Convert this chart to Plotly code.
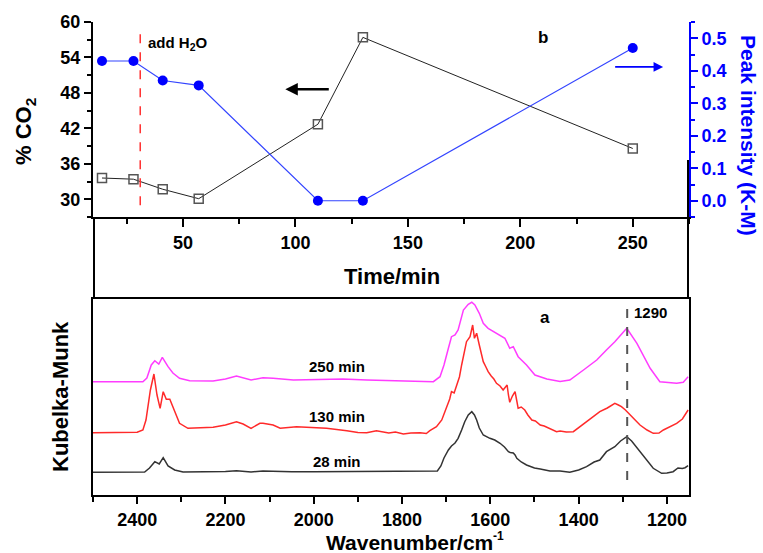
import plotly.graph_objects as go

# ---- panel b: CO2 fraction and 1290 band intensity vs. time ----
time_min = [14, 28, 41, 57, 110, 130, 250]
co2_pct = [33.6, 33.4, 31.7, 30.1, 42.7, 57.4, 38.6]
peak_km = [0.43, 0.43, 0.37, 0.355, 0.0, 0.0, 0.47]
water_added_min = 31

# ---- panel a: DRIFT spectra (Kubelka-Munk, offset) ----
wn_28 = [2500, 2450, 2400, 2383, 2372, 2360, 2350, 2341, 2330, 2315, 2296, 2250, 2200,
         2175, 2142, 2115, 2092, 2050, 2000, 1900, 1800, 1720, 1712, 1705, 1695, 1688,
         1680, 1673, 1665, 1658, 1650, 1642, 1636, 1631, 1625, 1616, 1601, 1590, 1578,
         1568, 1559, 1555, 1548, 1544, 1540, 1530, 1518, 1500, 1487, 1465, 1442, 1420,
         1400, 1382, 1365, 1352, 1337, 1318, 1305, 1291, 1280, 1261, 1245, 1231, 1212,
         1200, 1186, 1175, 1165, 1159, 1152]
km_28 = [0.227, 0.227, 0.227, 0.230, 0.270, 0.333, 0.310, 0.373, 0.290, 0.250, 0.230, 0.230,
         0.235, 0.243, 0.230, 0.240, 0.235, 0.233, 0.233, 0.233, 0.233, 0.240, 0.290, 0.370,
         0.450, 0.490, 0.520, 0.567, 0.650, 0.733, 0.800, 0.833, 0.800, 0.750, 0.670, 0.600,
         0.567, 0.550, 0.517, 0.480, 0.433, 0.425, 0.420, 0.400, 0.367, 0.330, 0.300, 0.270,
         0.260, 0.240, 0.240, 0.227, 0.250, 0.283, 0.330, 0.350, 0.433, 0.483, 0.540, 0.583,
         0.540, 0.433, 0.340, 0.267, 0.217, 0.220, 0.233, 0.270, 0.265, 0.273, 0.293]

wn_130 = [2500, 2450, 2400, 2387, 2380, 2370, 2362, 2355, 2348, 2341, 2334, 2326, 2315,
          2304, 2285, 2250, 2228, 2200, 2175, 2160, 2142, 2122, 2115, 2092, 2076, 2039,
          2000, 1971, 1925, 1900, 1880, 1870, 1858, 1830, 1815, 1797, 1780, 1759, 1745,
          1737, 1722, 1710, 1699, 1692, 1688, 1682, 1676, 1670, 1665, 1659, 1654, 1646,
          1640, 1636, 1631, 1625, 1620, 1616, 1610, 1605, 1598, 1592, 1586, 1578, 1571,
          1566, 1562, 1559, 1556, 1550, 1544, 1540, 1537, 1530, 1522, 1515, 1506, 1498,
          1487, 1478, 1465, 1458, 1450, 1442, 1428, 1412, 1398, 1382, 1366, 1352, 1335,
          1318, 1310, 1303, 1294, 1284, 1272, 1261, 1245, 1231, 1218, 1208, 1192, 1178,
          1165, 1152]
km_130 = [0.623, 0.625, 0.627, 0.650, 0.750, 1.050, 1.210, 1.000, 0.867, 1.033, 0.957, 0.957,
          0.833, 0.717, 0.667, 0.670, 0.677, 0.700, 0.733, 0.710, 0.667, 0.717, 0.717, 0.700,
          0.667, 0.683, 0.675, 0.667, 0.643, 0.625, 0.623, 0.635, 0.643, 0.620, 0.630, 0.610,
          0.620, 0.623, 0.615, 0.643, 0.683, 0.750, 0.883, 0.960, 1.033, 1.020, 1.100, 1.180,
          1.300, 1.420, 1.533, 1.583, 1.700, 1.567, 1.617, 1.500, 1.420, 1.333, 1.280, 1.233,
          1.190, 1.160, 1.117, 1.090, 1.050, 1.080, 1.100, 1.000, 0.927, 0.990, 1.033, 0.940,
          0.867, 0.880, 0.850, 0.800, 0.750, 0.740, 0.700, 0.690, 0.667, 0.650, 0.633, 0.640,
          0.630, 0.633, 0.680, 0.733, 0.780, 0.833, 0.870, 0.917, 0.900, 0.883, 0.850, 0.800,
          0.750, 0.700, 0.650, 0.617, 0.620, 0.650, 0.690, 0.717, 0.760, 0.850]

wn_250 = [2500, 2450, 2400, 2387, 2378, 2368, 2360, 2351, 2343, 2330, 2319, 2304, 2281,
          2228, 2200, 2175, 2142, 2115, 2092, 2046, 1990, 1934, 1880, 1820, 1760, 1729,
          1714, 1705, 1695, 1688, 1680, 1673, 1661, 1650, 1642, 1635, 1625, 1616, 1605,
          1586, 1567, 1556, 1548, 1537, 1518, 1499, 1472, 1442, 1420, 1389, 1359, 1337,
          1318, 1291, 1268, 1238, 1216, 1178, 1163, 1152]
km_250 = [1.133, 1.133, 1.133, 1.133, 1.170, 1.300, 1.343, 1.310, 1.377, 1.283, 1.220, 1.167,
          1.143, 1.140, 1.160, 1.190, 1.150, 1.173, 1.167, 1.150, 1.155, 1.160, 1.150, 1.143,
          1.133, 1.133, 1.183, 1.300, 1.467, 1.583, 1.600, 1.650, 1.850, 1.907, 1.927, 1.900,
          1.817, 1.717, 1.667, 1.617, 1.567, 1.467, 1.483, 1.383, 1.300, 1.200, 1.160, 1.135,
          1.150, 1.250, 1.350, 1.450, 1.533, 1.667, 1.517, 1.267, 1.133, 1.117, 1.127, 1.183]

band_wn = 1290

FONT = "Liberation Sans, Arial, sans-serif"
BLUE = "#0000ff"

fig = go.Figure()

# panel b traces
fig.add_trace(go.Scatter(
    x=time_min, y=co2_pct, mode="lines+markers", xaxis="x", yaxis="y",
    line=dict(color="#222222", width=1),
    marker=dict(symbol="square-open", size=9, color="#555555", line=dict(width=1.5)),
    showlegend=False))
fig.add_trace(go.Scatter(
    x=time_min, y=peak_km, mode="lines+markers", xaxis="x", yaxis="y2",
    line=dict(color="#3344ff", width=1.2),
    marker=dict(symbol="circle", size=10, color=BLUE),
    showlegend=False))
fig.add_trace(go.Scatter(
    x=[water_added_min, water_added_min], y=[29, 58.1], mode="lines", xaxis="x", yaxis="y",
    line=dict(color="#ff3030", width=1.5, dash="dash"), showlegend=False))

# panel a traces
for wn, km, col in [(wn_250, km_250, "#ff3cff"), (wn_130, km_130, "#ff2a2a"),
                    (wn_28, km_28, "#333333")]:
    fig.add_trace(go.Scatter(x=wn, y=km, mode="lines", xaxis="x2", yaxis="y3",
                             line=dict(color=col, width=1.5), showlegend=False))
fig.add_trace(go.Scatter(
    x=[band_wn, band_wn], y=[0.15, 1.87], mode="lines", xaxis="x2", yaxis="y3",
    line=dict(color="#555555", width=2, dash="dash"), showlegend=False))

tickfont = dict(family=FONT, size=18, color="black", weight="bold")
axis_common = dict(showline=True, linewidth=2, linecolor="black", showgrid=False,
                   zeroline=False, tickwidth=2, tickcolor="black", tickfont=tickfont)

fig.update_layout(
    width=763, height=553,
    margin=dict(l=93, r=74, t=22, b=58),
    paper_bgcolor="white", plot_bgcolor="white",
    xaxis=dict(axis_common, domain=[0, 1], anchor="y", range=[10, 275],
               tick0=0, dtick=50, ticks="outside", ticklen=8,
               minor=dict(ticks="outside", ticklen=5, dtick=25, tick0=0,
                          tickwidth=2, tickcolor="black")),
    xaxis3=dict(showline=True, linewidth=2, linecolor="black", showgrid=False,
                zeroline=False, overlaying="x", side="top", anchor="y",
                range=[10, 275], tick0=0, dtick=50, ticks="inside", ticklen=8,
                tickwidth=2, tickcolor="black", showticklabels=False,
                minor=dict(ticks="inside", ticklen=5, dtick=25, tick0=0,
                           tickwidth=2, tickcolor="black")),
    yaxis=dict(axis_common, domain=[0.5877, 1], anchor="x", range=[27, 60],
               tick0=0, dtick=6, ticks="outside", ticklen=7,
               minor=dict(ticks="outside", ticklen=4, dtick=3, tick0=0,
                          tickwidth=2, tickcolor="black")),
    yaxis2=dict(showline=True, linewidth=2, linecolor=BLUE, showgrid=False,
                zeroline=False, overlaying="y", side="right", anchor="x",
                range=[-0.05, 0.55], tick0=0, dtick=0.1, tickformat=".1f",
                ticks="outside", ticklen=7, tickwidth=2, tickcolor=BLUE,
                tickfont=dict(family=FONT, size=18, color=BLUE, weight="bold"),
                minor=dict(ticks="outside", ticklen=4, dtick=0.05, tick0=0,
                           tickwidth=2, tickcolor=BLUE)),
    xaxis2=dict(axis_common, domain=[0, 1], anchor="y3", range=[2500, 1150],
                tick0=0, dtick=200, ticks="outside", ticklen=7, mirror=True,
                minor=dict(ticks="outside", ticklen=5, dtick=100, tick0=0,
                           tickwidth=2, tickcolor="black")),
    yaxis3=dict(showline=True, linewidth=2, linecolor="black", showgrid=False,
                zeroline=False, domain=[0, 0.4144], anchor="x2", range=[0, 1.96],
                showticklabels=False, ticks="", mirror=True),
)

def px_x(p):
    return (p - 93) / 596

def px_y(p):
    return (495 - p) / 473

title_font = dict(family=FONT, size=22, color="black", weight="bold")
annos = [
    dict(text="% CO<sub>2</sub>", x=px_x(25), y=px_y(132), textangle=-90, font=title_font),
    dict(text="Kubelka-Munk", x=px_x(60), y=px_y(397), textangle=-90, font=title_font),
    dict(text="Time/min", x=px_x(392), y=px_y(276), font=title_font),
    dict(text="Wavenumber/cm", x=px_x(409), y=px_y(542),
         font=dict(family=FONT, size=21, color="black", weight="bold")),
    dict(text="-1", x=px_x(498), y=px_y(536),
         font=dict(family=FONT, size=12, color="black", weight="bold")),
    dict(text="Peak intensity (K-M)", x=px_x(749), y=px_y(135), textangle=90,
         font=dict(family=FONT, size=21, color=BLUE, weight="bold")),
]
for a in annos:
    a.update(xref="paper", yref="paper", showarrow=False, xanchor="center", yanchor="middle")
    fig.add_annotation(**a)

label_font = dict(family=FONT, size=15, color="black", weight="bold")
# panel b labels and arrows
fig.add_annotation(text="add H<sub>2</sub>O", x=48, y=56.4, xref="x", yref="y",
                   showarrow=False, font=label_font)
fig.add_annotation(text="b", x=210, y=57.4, xref="x", yref="y", showarrow=False,
                   font=dict(family=FONT, size=17, color="black", weight="bold"))
fig.add_annotation(x=95.5, y=48.6, ax=115.5, ay=48.6, xref="x", yref="y",
                   axref="x", ayref="y", text="", showarrow=True, arrowhead=2,
                   arrowsize=1, arrowwidth=2.5, arrowcolor="black")
fig.add_annotation(x=263.5, y=52.4, ax=241.5, ay=52.4, xref="x", yref="y",
                   axref="x", ayref="y", text="", showarrow=True, arrowhead=2,
                   arrowsize=1.2, arrowwidth=1.6, arrowcolor=BLUE)

# panel a labels
for txt, wn, v in [("250 min", 1947, 1.28), ("130 min", 1947, 0.78), ("28 min", 1947, 0.33)]:
    fig.add_annotation(text=txt, x=wn, y=v, xref="x2", yref="y3", showarrow=False,
                       font=label_font)
fig.add_annotation(text="a", x=1476, y=1.77, xref="x2", yref="y3", showarrow=False,
                   font=dict(family=FONT, size=17, color="black", weight="bold"))
fig.add_annotation(text="1290", x=1238, y=1.82, xref="x2", yref="y3", showarrow=False,
                   font=label_font)

# frame pieces joining the two panels
fig.add_shape(type="line", xref="paper", yref="paper", x0=px_x(94), x1=px_x(94),
              y0=px_y(217), y1=px_y(299), line=dict(color="black", width=2))
fig.add_shape(type="line", xref="paper", yref="paper", x0=px_x(688), x1=px_x(688),
              y0=px_y(160), y1=px_y(299), line=dict(color="black", width=2))

fig.write_html("out.html")
